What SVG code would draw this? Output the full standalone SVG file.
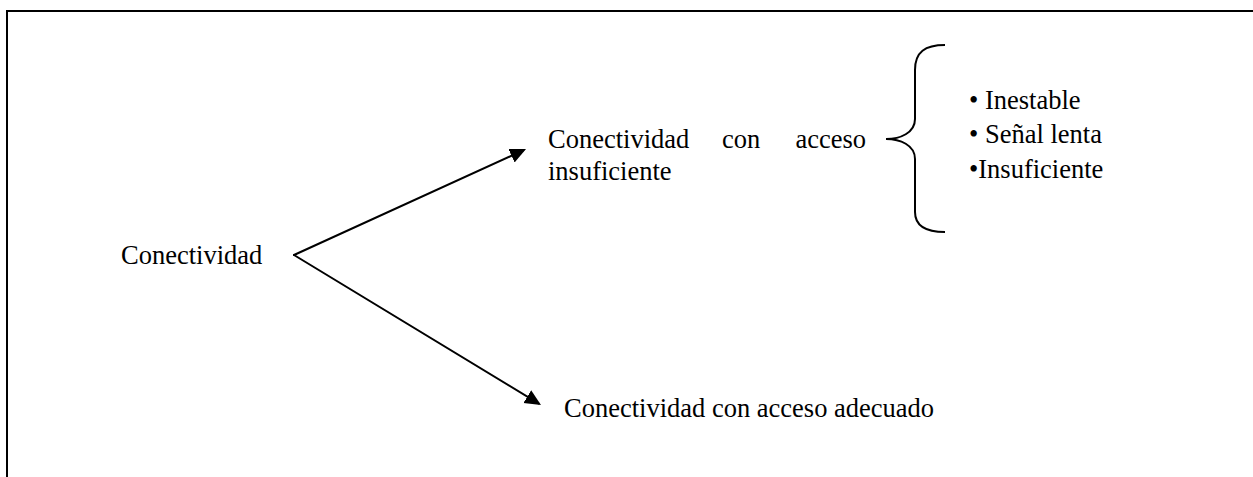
<svg xmlns="http://www.w3.org/2000/svg" width="1253" height="477" viewBox="0 0 1253 477">
  <style>
    .t { font-family: "Liberation Serif", "Times New Roman", serif; font-size: 26.5px; fill: #000; }
    .ln { fill: none; stroke: #000; stroke-width: 2; }
  </style>
  <defs>
    <marker id="arrow" markerUnits="userSpaceOnUse" markerWidth="18" markerHeight="16" refX="13" refY="7.5" orient="auto">
      <path d="M0,0 L16,7.5 L0,15 z" fill="#000"/>
    </marker>
  </defs>
  <rect width="1253" height="477" fill="#fff"/>
  <g id="frame">
    <path class="ln" d="M7,477 L7,11 L1253,11"/>
  </g>
  <g id="connectors">
    <path class="ln" stroke-linecap="round" d="M294,255 L523.3,150.3" marker-end="url(#arrow)"/>
    <path class="ln" stroke-linecap="round" d="M294,255 L538.4,403.4" marker-end="url(#arrow)"/>
    <path id="brace" class="ln" d="M945,45 C925,45 915,52 915,70 L915,119 C915,133 900,139 886,139 C900,139 915,145 915,159 L915,212 C915,226 925,232 945,232"/>
  </g>
  <g id="node-conectividad">
    <text class="t" x="121" y="264">Conectividad</text>
  </g>
  <g id="node-insuficiente">
    <text class="t" y="148"><tspan x="548">Conectividad</tspan><tspan x="722">con</tspan><tspan x="795.4">acceso</tspan></text>
    <text class="t" x="548" y="180">insuficiente</text>
  </g>
  <g id="node-list">
    <text class="t" x="969" y="109">• Inestable</text>
    <text class="t" x="969" y="143">• Señal lenta</text>
    <text class="t" x="969" y="178">•Insuficiente</text>
  </g>
  <g id="node-adecuado">
    <text class="t" x="564" y="417">Conectividad con acceso adecuado</text>
  </g>
</svg>
